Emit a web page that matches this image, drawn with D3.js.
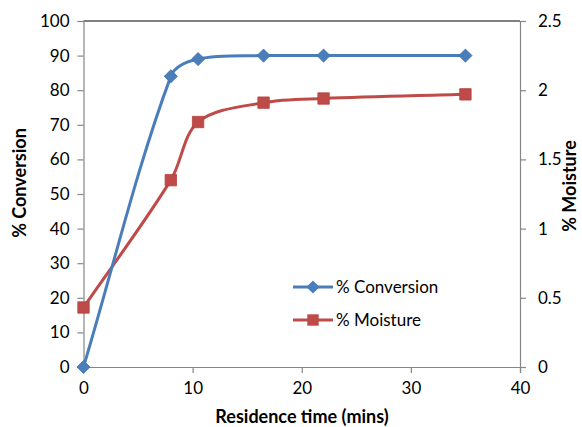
<!DOCTYPE html>
<html><head><meta charset="utf-8">
<script src="https://cdn.jsdelivr.net/npm/d3@7"></script>
<style>body{margin:0;background:#fff}svg{display:block}</style>
</head><body>
<svg id="c" width="582" height="427"></svg>
<script>
const time = [0, 8, 10.5, 16.5, 22, 35];
const conversion = [0, 84, 89, 90, 90, 90];
const moisture = [0.43, 1.35, 1.77, 1.91, 1.94, 1.97];
const xTicks = [0, 10, 20, 30, 40];
const yLeftTicks = [0, 10, 20, 30, 40, 50, 60, 70, 80, 90, 100];
const yRightTicks = [0, 0.5, 1, 1.5, 2, 2.5];
const seriesNames = ["% Conversion", "% Moisture"];

const svg = d3.select("#c");
const L = 83.5, R = 520, T = 21, B = 367;
const font = "Lato, 'Open Sans', sans-serif";
const blue = "#4A7EBB", red = "#BE4B48", axisCol = "#868686";

const x = d3.scaleLinear().domain([0, 40]).range([L, R]);
const yL = d3.scaleLinear().domain([0, 100]).range([B, T]);
const yR = d3.scaleLinear().domain([0, 2.5]).range([B, T]);

// top border
svg.append("line").attr("x1", L).attr("x2", R).attr("y1", T).attr("y2", T).attr("stroke", "#000").attr("stroke-width", 1);

function styleAxis(g) {
  g.selectAll("path,line").attr("stroke", axisCol).attr("stroke-width", 1.2);
  g.selectAll("text").attr("font-family", font).attr("font-size", 17).attr("fill", "#000");
}
svg.append("g").attr("transform", `translate(0,${B})`)
  .call(d3.axisBottom(x).tickValues(xTicks).tickSizeOuter(0).tickSize(6).tickPadding(9).tickFormat(d3.format("d")))
  .call(styleAxis);
svg.append("g").attr("transform", `translate(${L},0)`)
  .call(d3.axisLeft(yL).tickValues(yLeftTicks).tickSizeOuter(0).tickSize(6).tickPadding(8).tickFormat(d3.format("d")))
  .call(styleAxis);
svg.append("g").attr("transform", `translate(${R},0)`)
  .call(d3.axisRight(yR).tickValues(yRightTicks).tickSizeOuter(0).tickSize(6).tickPadding(12).tickFormat(d => String(d)))
  .call(styleAxis);

// axis titles
svg.append("text").attr("x", 302).attr("y", 423).attr("text-anchor", "middle")
  .attr("font-family", font).attr("font-weight", "bold").attr("font-size", 18).text("Residence time (mins)");
svg.append("text").attr("transform", "translate(26,183) rotate(-90)").attr("text-anchor", "middle")
  .attr("font-family", font).attr("font-weight", "bold").attr("font-size", 18).text("% Conversion");
svg.append("text").attr("transform", "translate(576,186) rotate(-90)").attr("text-anchor", "middle")
  .attr("font-family", font).attr("font-weight", "bold").attr("font-size", 18).text("% Moisture");

// spreadsheet-style smoothing: tangent along neighbours, length weighted by segment lengths
function smoothPath(pts) {
  const p = d3.path();
  const n = pts.length;
  const dist = (a, b) => Math.hypot(b[0] - a[0], b[1] - a[1]);
  const tan = i => {
    const a = pts[Math.max(i - 1, 0)], b = pts[Math.min(i + 1, n - 1)];
    return [b[0] - a[0], b[1] - a[1]];
  };
  p.moveTo(pts[0][0], pts[0][1]);
  for (let i = 0; i < n - 1; i++) {
    const P1 = pts[i], P2 = pts[i + 1];
    const d12 = dist(P1, P2);
    const d01 = i > 0 ? dist(pts[i - 1], P1) : 0;
    const d23 = i + 2 < n ? dist(P2, pts[i + 2]) : 0;
    const t1 = tan(i), t2 = tan(i + 1);
    const f1 = d12 / (d01 + d12) / 3, f2 = d12 / (d12 + d23) / 3;
    p.bezierCurveTo(P1[0] + t1[0] * f1, P1[1] + t1[1] * f1, P2[0] - t2[0] * f2, P2[1] - t2[1] * f2, P2[0], P2[1]);
  }
  return p.toString();
}

const convPts = time.map((t, i) => [x(t), yL(conversion[i])]);
const moisPts = time.map((t, i) => [x(t), yR(moisture[i])]);

svg.append("path").attr("d", smoothPath(moisPts)).attr("fill", "none").attr("stroke", red).attr("stroke-width", 3);
svg.append("path").attr("d", smoothPath(convPts)).attr("fill", "none").attr("stroke", blue).attr("stroke-width", 3);

const diamond = d3.symbol().type(d3.symbolDiamond2).size(110);
const square = d3.symbol().type(d3.symbolSquare).size(130);

svg.selectAll(".mm").data(moisPts).join("path").attr("class", "mm")
  .attr("transform", d => `translate(${d[0]},${d[1]})`).attr("d", square).attr("fill", red).attr("stroke", "#b4413e").attr("stroke-width", 0.8);
svg.selectAll(".cm").data(convPts).join("path").attr("class", "cm")
  .attr("transform", d => `translate(${d[0]},${d[1]})`).attr("d", diamond).attr("fill", blue).attr("stroke", "#3f72ad").attr("stroke-width", 0.8);

// legend
const leg = [{name: seriesNames[0], col: blue, sym: diamond, y: 287}, {name: seriesNames[1], col: red, sym: square, y: 320}];
leg.forEach(l => {
  svg.append("line").attr("x1", 293).attr("x2", 333).attr("y1", l.y).attr("y2", l.y).attr("stroke", l.col).attr("stroke-width", 3);
  svg.append("path").attr("transform", `translate(313,${l.y})`).attr("d", l.sym).attr("fill", l.col);
  svg.append("text").attr("x", 336).attr("y", l.y).attr("dy", "0.35em").attr("font-family", font).attr("font-size", 17).text(l.name);
});
</script>
</body></html>
